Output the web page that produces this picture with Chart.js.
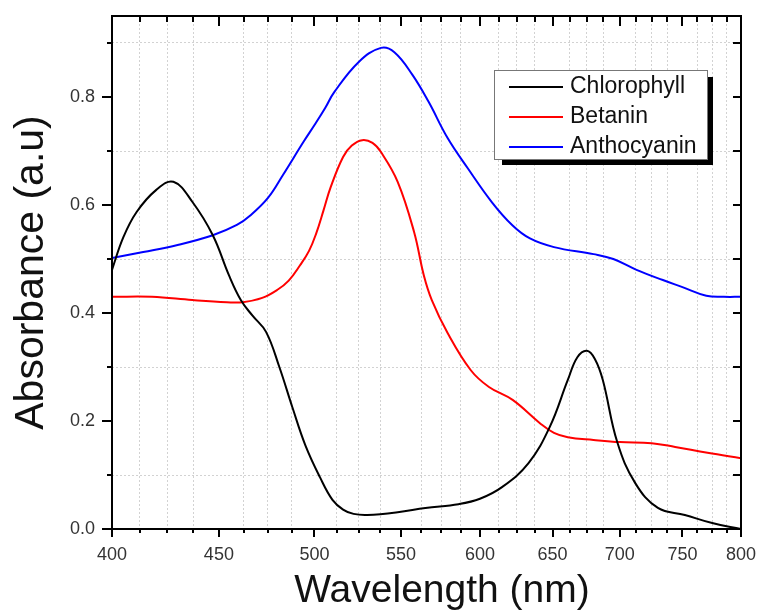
<!DOCTYPE html>
<html>
<head>
<meta charset="utf-8">
<script src="https://cdn.jsdelivr.net/npm/chart.js@4.4.1/dist/chart.umd.min.js"></script>
<style>
  body { margin: 0; background: #fff; }
  #wrap { width: 760px; height: 615px; }
</style>
</head>
<body>
<div id="wrap"><canvas id="mycanvas" width="760" height="615"></canvas></div>
<script>
// wavelengths (nm) and absorbance
var chlWl  = [400, 405, 411, 420, 428, 437, 447, 455, 461, 467, 474, 481, 488, 495, 503, 510, 516, 522, 530, 548, 565, 586, 600, 615, 633, 648, 661, 668, 675, 681, 687, 698, 712, 730, 752, 775, 800];
var chlAbs = [0.48, 0.54, 0.587, 0.628, 0.643, 0.606, 0.544, 0.47, 0.424, 0.395, 0.365, 0.30, 0.225, 0.155, 0.096, 0.054, 0.036, 0.028, 0.026, 0.031, 0.039, 0.046, 0.056, 0.078, 0.122, 0.189, 0.276, 0.318, 0.330, 0.315, 0.276, 0.161, 0.085, 0.039, 0.026, 0.011, 0.0];

var betWl  = [400, 418, 437, 454, 462, 472, 480, 486, 492, 497, 501, 505, 509, 516, 521, 527, 533, 538, 548, 558, 564, 569, 579, 594, 606, 622, 641, 651, 661, 680, 700, 725, 744, 771, 800];
var betAbs = [0.430, 0.430, 0.424, 0.420, 0.420, 0.428, 0.443, 0.46, 0.488, 0.515, 0.548, 0.59, 0.633, 0.689, 0.710, 0.720, 0.715, 0.698, 0.643, 0.55, 0.47, 0.424, 0.363, 0.294, 0.263, 0.239, 0.196, 0.178, 0.170, 0.165, 0.161, 0.159, 0.152, 0.141, 0.131];

var antWl  = [400, 414, 430, 447, 459, 466, 475, 483, 494, 500, 506, 511, 525, 538, 546, 557, 567, 579, 592, 608, 622, 634, 651, 680, 695, 713, 734, 750, 770, 785, 800];
var antAbs = [0.502, 0.513, 0.526, 0.544, 0.563, 0.581, 0.613, 0.656, 0.717, 0.748, 0.78, 0.809, 0.865, 0.891, 0.883, 0.841, 0.791, 0.724, 0.668, 0.605, 0.562, 0.538, 0.522, 0.509, 0.500, 0.48, 0.461, 0.448, 0.432, 0.43, 0.43];

// axis ticks (major ones get labels)
var xTicks = [400, 412.5, 425, 437.5, 450, 462.5, 475, 487.5, 500, 512.5, 525, 537.5, 550, 562.5, 575, 587.5, 600, 612.5, 625, 637.5, 650, 662.5, 675, 687.5, 700, 712.5, 725, 737.5, 750, 762.5, 775, 787.5, 800];
var xLabels = [400, 450, 500, 550, 600, 650, 700, 750, 800];
var yTicks = [0, 0.1, 0.2, 0.3, 0.4, 0.5, 0.6, 0.7, 0.8, 0.9];
var yLabels = [0, 0.2, 0.4, 0.6, 0.8];

var FONT = "'Liberation Sans', Arial, sans-serif";
Chart.defaults.font.family = FONT;

function pairs(xs, ys) {
  var out = [];
  for (var i in xs) out.push({x: xs[i], y: ys[i]});
  return out;
}
function isYMajor(v) {
  return yLabels.some(function(l){ return Math.abs(l - v) < 1e-6; });
}
function noPad(s) {
  s.paddingTop = 0; s.paddingBottom = 0; s.paddingLeft = 0; s.paddingRight = 0;
}

var framePlugin = {
  id: 'frame',
  afterDraw: function(chart) {
    var c = chart.ctx, a = chart.chartArea;
    var sx = chart.scales.x, sy = chart.scales.y;
    c.save();
    c.strokeStyle = '#000';
    c.lineWidth = 2;
    c.strokeRect(a.left, a.top, a.right - a.left, a.bottom - a.top);

    c.beginPath();
    xTicks.forEach(function(v) {
      var px = Math.round(sx.getPixelForValue(v));
      var major = xLabels.indexOf(v) >= 0;
      c.moveTo(px, a.bottom); c.lineTo(px, a.bottom + (major ? 8 : 4));
      c.moveTo(px, a.top); c.lineTo(px, a.top + (major ? 10 : 6));
    });
    yTicks.forEach(function(v) {
      var py = Math.round(sy.getPixelForValue(v));
      var major = isYMajor(v);
      c.moveTo(a.left, py); c.lineTo(a.left - (major ? 10 : 5), py);
      c.moveTo(a.right, py); c.lineTo(a.right - 8, py);
    });
    c.stroke();

    // legend with drop shadow
    c.fillStyle = '#000';
    c.fillRect(502, 77, 211, 88);
    c.fillStyle = '#fff';
    c.fillRect(494, 70, 214, 89);
    c.strokeStyle = '#777';
    c.lineWidth = 1;
    c.strokeRect(494.5, 70.5, 213, 89);
    c.font = '23px ' + FONT;
    c.textBaseline = 'middle';
    c.textAlign = 'left';
    chart.data.datasets.forEach(function(ds, i) {
      var y = 87 + i * 30;
      c.strokeStyle = ds.borderColor;
      c.lineWidth = 2;
      c.beginPath(); c.moveTo(509, y); c.lineTo(563, y); c.stroke();
      c.fillStyle = '#111';
      c.fillText(ds.label, 570, y);
    });

    // axis titles
    c.fillStyle = '#111';
    c.textBaseline = 'alphabetic';
    c.textAlign = 'center';
    c.font = '39px ' + FONT;
    c.fillText('Wavelength (nm)', 442, 602);
    c.translate(43, (a.top + a.bottom) / 2);
    c.rotate(-Math.PI / 2);
    c.font = '41px ' + FONT;
    c.fillText('Absorbance (a.u)', 0, 0);
    c.restore();
  }
};

var ctx = document.getElementById('mycanvas');

var chartdata = {
  datasets: [
    { label: 'Chlorophyll', data: pairs(chlWl, chlAbs), borderColor: '#000000' },
    { label: 'Betanin', data: pairs(betWl, betAbs), borderColor: '#ff0000' },
    { label: 'Anthocyanin', data: pairs(antWl, antAbs), borderColor: '#0000ff' }
  ]
};
chartdata.datasets.forEach(function(ds) {
  ds.borderWidth = 2;
  ds.pointRadius = 0;
  ds.fill = false;
  ds.tension = 0.4;
});

var LineGraph = new Chart(ctx, {
  type: 'line',
  data: chartdata,
  plugins: [framePlugin],
  options: {
    responsive: false,
    animation: false,
    layout: { autoPadding: false, padding: { top: 16, right: 19, left: 0, bottom: 0 } },
    plugins: { legend: { display: false }, tooltip: { enabled: false } },
    scales: {
      x: {
        type: 'logarithmic',
        min: 400,
        max: 800,
        afterBuildTicks: function(s) { s.ticks = xTicks.map(function(v){ return {value: v}; }); },
        afterFit: function(s) { s.height = 86; noPad(s); },
        ticks: {
          autoSkip: false, maxRotation: 0, padding: 15, color: '#333',
          font: { size: 18 },
          callback: function(v) { return xLabels.indexOf(v) >= 0 ? String(v) : ''; }
        },
        grid: {
          drawTicks: false,
          lineWidth: 1,
          color: function(c) { return (c.tick && xLabels.indexOf(c.tick.value) < 0) ? '#d2d2d2' : 'rgba(0,0,0,0)'; }
        },
        border: { display: false, dash: [2, 2] }
      },
      y: {
        type: 'linear',
        min: 0,
        max: 0.95,
        afterBuildTicks: function(s) { s.ticks = yTicks.map(function(v){ return {value: v}; }); },
        afterFit: function(s) { s.width = 112; noPad(s); },
        ticks: {
          padding: 17, color: '#333',
          font: { size: 18 },
          callback: function(v) { return isYMajor(v) ? v.toFixed(1) : ''; }
        },
        grid: {
          drawTicks: false,
          lineWidth: 1,
          color: function(c) { return (c.tick && !isYMajor(c.tick.value)) ? '#d2d2d2' : 'rgba(0,0,0,0)'; }
        },
        border: { display: false, dash: [2, 2] }
      }
    }
  }
});
</script>
</body>
</html>
